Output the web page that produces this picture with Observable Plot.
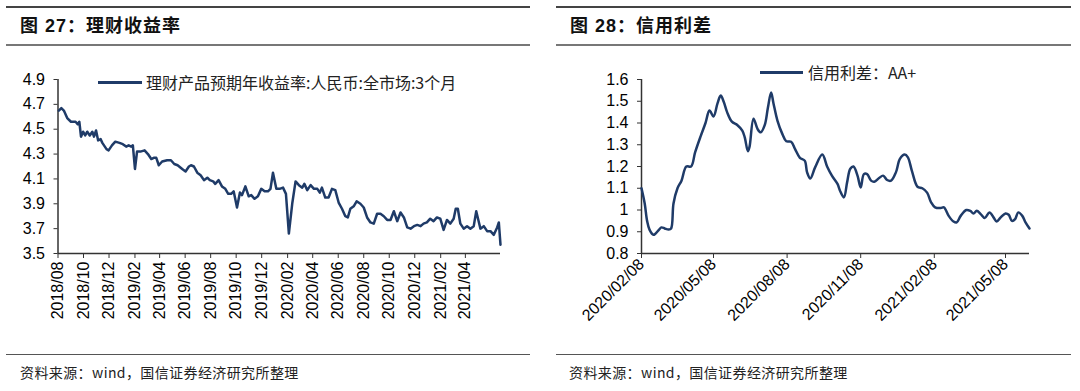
<!DOCTYPE html>
<html><head><meta charset="utf-8">
<script src="https://cdn.jsdelivr.net/npm/d3@7"></script>
<script src="https://cdn.jsdelivr.net/npm/@observablehq/plot@0.6"></script>
<style>
body{margin:0;background:#fff;width:1080px;height:391px;position:relative;overflow:hidden;font-family:"Liberation Sans",Arial,sans-serif;}
.rule{position:absolute;height:0;}
.title{position:absolute;top:16px;font-family:"Liberation Sans","Noto Sans CJK SC",sans-serif;font-weight:bold;font-size:18px;line-height:20px;color:#111;letter-spacing:1px;white-space:nowrap;}
.cap{position:absolute;top:363px;font-family:"Noto Sans CJK SC",sans-serif;font-size:14px;line-height:18px;color:#222;letter-spacing:0.4px;white-space:nowrap;}
.chart{position:absolute;top:50px;}
.leg{position:absolute;font-family:"Noto Sans CJK SC",sans-serif;font-size:16px;line-height:20px;color:#222;white-space:nowrap;}
.legline{position:absolute;height:3px;background:#1f3b68;}
</style></head>
<body>
<div class="rule" style="left:6px;width:524px;top:6px;border-top:2px solid #444"></div>
<div class="rule" style="left:556px;width:515px;top:6px;border-top:2px solid #444"></div>
<div class="rule" style="left:6px;width:524px;top:44px;border-top:2px solid #777"></div>
<div class="rule" style="left:556px;width:515px;top:44px;border-top:2px solid #777"></div>
<div class="title" style="left:20px">图 27：理财收益率</div>
<div class="title" style="left:570px">图 28：信用利差</div>
<div class="chart" id="c1" style="left:0px"></div>
<div class="chart" id="c2" style="left:540px"></div>
<div class="legline" style="left:98px;width:44px;top:81px"></div>
<div class="leg" style="left:146px;top:72px">理财产品预期年收益率:人民币:全市场:3个月</div>
<div class="legline" style="left:760px;width:43px;top:71px"></div>
<div class="leg" style="left:808px;top:62px">信用利差：AA+</div>
<div class="rule" style="left:6px;width:524px;top:354px;border-top:1.5px solid #555"></div>
<div class="rule" style="left:556px;width:515px;top:354px;border-top:1.5px solid #555"></div>
<div class="cap" style="left:20px">资料来源：wind，国信证券经济研究所整理</div>
<div class="cap" style="left:569px">资料来源：wind，国信证券经济研究所整理</div>
<script>
// ---- Figure 27: wealth-management product expected yield (3M) ----
const rateDates = ["2018-08-03","2018-08-09","2018-08-15","2018-08-23","2018-09-01","2018-09-12","2018-09-17","2018-09-21","2018-09-25","2018-09-30","2018-10-05","2018-10-10","2018-10-16","2018-10-22","2018-10-26","2018-10-31","2018-11-05","2018-11-11","2018-11-15","2018-11-25","2018-11-30","2018-12-08","2018-12-16","2018-12-26","2019-01-03","2019-01-11","2019-01-17","2019-01-23","2019-01-27","2019-02-01","2019-02-06","2019-02-14","2019-02-24","2019-03-04","2019-03-12","2019-03-18","2019-03-24","2019-03-30","2019-04-07","2019-04-19","2019-04-28","2019-05-06","2019-05-14","2019-05-25","2019-06-02","2019-06-10","2019-06-15","2019-06-22","2019-06-30","2019-07-08","2019-07-16","2019-07-24","2019-07-30","2019-08-07","2019-08-12","2019-08-20","2019-08-28","2019-09-05","2019-09-12","2019-09-19","2019-09-25","2019-10-03","2019-10-10","2019-10-15","2019-10-23","2019-10-31","2019-11-06","2019-11-14","2019-11-22","2019-11-30","2019-12-08","2019-12-16","2019-12-22","2019-12-28","2020-01-05","2020-01-13","2020-01-21","2020-01-28","2020-02-04","2020-02-12","2020-02-20","2020-02-28","2020-03-07","2020-03-12","2020-03-19","2020-03-27","2020-04-04","2020-04-12","2020-04-18","2020-04-23","2020-05-01","2020-05-09","2020-05-17","2020-05-25","2020-06-02","2020-06-10","2020-06-18","2020-06-24","2020-06-30","2020-07-08","2020-07-15","2020-07-24","2020-08-01","2020-08-09","2020-08-17","2020-08-25","2020-09-02","2020-09-10","2020-09-18","2020-09-26","2020-10-04","2020-10-12","2020-10-20","2020-10-28","2020-11-05","2020-11-13","2020-11-21","2020-11-29","2020-12-07","2020-12-15","2020-12-22","2020-12-30","2021-01-07","2021-01-15","2021-01-23","2021-01-31","2021-02-08","2021-02-16","2021-02-24","2021-03-04","2021-03-09","2021-03-14","2021-03-20","2021-03-28","2021-04-05","2021-04-13","2021-04-21","2021-04-27","2021-05-02","2021-05-07","2021-05-15","2021-05-23","2021-05-31","2021-06-08","2021-06-16","2021-06-20","2021-06-24"];
const rateValues = [4.65,4.67,4.65,4.59,4.56,4.56,4.54,4.56,4.44,4.48,4.45,4.48,4.45,4.48,4.44,4.49,4.41,4.42,4.39,4.34,4.33,4.37,4.40,4.39,4.38,4.36,4.37,4.36,4.37,4.18,4.32,4.32,4.33,4.30,4.26,4.27,4.27,4.21,4.24,4.25,4.25,4.22,4.21,4.18,4.16,4.20,4.21,4.20,4.15,4.13,4.09,4.11,4.09,4.08,4.06,4.09,4.04,4.02,3.98,3.98,4.00,3.87,3.99,3.97,4.04,3.96,3.97,3.94,3.96,4.02,4.00,4.00,4.02,4.15,4.02,4.02,4.03,3.98,3.66,3.90,4.08,4.05,4.03,4.06,4.01,4.05,4.02,4.02,3.99,4.03,3.95,3.95,4.02,4.01,3.91,3.86,3.80,3.79,3.86,3.88,3.92,3.90,3.87,3.79,3.75,3.74,3.82,3.82,3.80,3.77,3.77,3.84,3.76,3.83,3.79,3.71,3.70,3.72,3.73,3.72,3.74,3.75,3.78,3.76,3.79,3.78,3.69,3.77,3.74,3.78,3.86,3.86,3.74,3.70,3.72,3.70,3.72,3.84,3.77,3.70,3.72,3.68,3.68,3.65,3.71,3.75,3.57];
const rateXTicks = ["2018-08-01","2018-10-01","2018-12-01","2019-02-01","2019-04-01","2019-06-01","2019-08-01","2019-10-01","2019-12-01","2020-02-01","2020-04-01","2020-06-01","2020-08-01","2020-10-01","2020-12-01","2021-02-01","2021-04-01"];
const rateYTicks = [3.5,3.7,3.9,4.1,4.3,4.5,4.7,4.9];
const rateXDomain = ["2018-08-01","2021-06-24"];

// ---- Figure 28: credit spread AA+ ----
const spreadDates = ["2020-02-08","2020-02-12","2020-02-15","2020-02-18","2020-02-23","2020-02-25","2020-03-01","2020-03-04","2020-03-08","2020-03-13","2020-03-16","2020-03-19","2020-03-24","2020-03-29","2020-04-04","2020-04-10","2020-04-15","2020-04-22","2020-04-28","2020-05-03","2020-05-08","2020-05-13","2020-05-17","2020-05-21","2020-05-25","2020-05-31","2020-06-07","2020-06-13","2020-06-16","2020-06-20","2020-06-22","2020-06-27","2020-07-02","2020-07-06","2020-07-11","2020-07-15","2020-07-19","2020-07-22","2020-07-27","2020-08-02","2020-08-07","2020-08-13","2020-08-18","2020-08-24","2020-08-30","2020-09-02","2020-09-06","2020-09-12","2020-09-21","2020-09-27","2020-10-03","2020-10-10","2020-10-13","2020-10-18","2020-10-22","2020-10-26","2020-10-30","2020-11-04","2020-11-08","2020-11-12","2020-11-16","2020-11-21","2020-11-25","2020-12-01","2020-12-06","2020-12-11","2020-12-16","2020-12-22","2020-12-27","2021-01-02","2021-01-06","2021-01-11","2021-01-18","2021-01-24","2021-01-30","2021-02-04","2021-02-09","2021-02-16","2021-02-20","2021-02-26","2021-03-04","2021-03-08","2021-03-13","2021-03-20","2021-03-25","2021-03-29","2021-04-02","2021-04-07","2021-04-12","2021-04-18","2021-04-23","2021-04-27","2021-05-02","2021-05-08","2021-05-12","2021-05-16","2021-05-20","2021-05-24","2021-05-29","2021-06-02","2021-06-07"];
const spreadValues = [1.10,1.03,0.95,0.91,0.886,0.89,0.91,0.92,0.915,0.91,0.915,1.03,1.10,1.135,1.20,1.20,1.265,1.34,1.40,1.457,1.43,1.49,1.526,1.495,1.45,1.406,1.39,1.365,1.335,1.27,1.29,1.42,1.373,1.357,1.39,1.47,1.54,1.49,1.41,1.35,1.316,1.314,1.28,1.24,1.227,1.173,1.145,1.196,1.255,1.20,1.158,1.12,1.09,1.058,1.127,1.19,1.20,1.158,1.104,1.165,1.165,1.135,1.13,1.147,1.158,1.138,1.135,1.173,1.235,1.255,1.242,1.18,1.107,1.10,1.08,1.035,1.012,1.009,1.012,0.973,0.947,0.943,0.973,1.00,0.996,0.984,0.996,0.981,0.963,0.989,0.966,0.947,0.966,0.984,0.978,0.95,0.958,0.989,0.973,0.943,0.915];
const spreadXTicks = ["2020-02-08","2020-05-08","2020-08-08","2020-11-08","2021-02-08","2021-05-08"];
const spreadYTicks = [0.8,0.9,1.0,1.1,1.2,1.3,1.4,1.5,1.6];
const spreadXDomain = ["2020-02-08","2021-06-07"];

const navy = "#1f3b68";
const axisColor = "#333";
const baseStyle = {fontFamily: '"Liberation Sans", Arial, sans-serif', fontSize: "16px", color: "#000", background: "transparent", overflow: "visible"};
const toDate = s => new Date(s + "T00:00:00Z");

const rateData = rateDates.map((d, i) => ({date: toDate(d), value: rateValues[i]}));
const spreadData = spreadDates.map((d, i) => ({date: toDate(d), value: spreadValues[i]}));

const c1 = Plot.plot({
  width: 540, height: 300,
  marginLeft: 57.5, marginRight: 40, marginTop: 29, marginBottom: 97,
  style: baseStyle,
  x: {type: "utc", domain: rateXDomain.map(toDate)},
  y: {domain: [3.5, 4.9]},
  marks: [
    Plot.axisY(rateYTicks, {tickFormat: d => d.toFixed(1), tickSize: 4, tickPadding: 9, stroke: axisColor, fill: "#000", fontSize: 16, label: null}),
    Plot.axisX(rateXTicks.map(toDate), {tickFormat: d3.utcFormat("%Y/%m"), tickRotate: -90, tickSize: 5, tickPadding: 3, stroke: axisColor, fill: "#000", fontSize: 16, label: null}),
    Plot.ruleX([toDate(rateXDomain[0])], {stroke: axisColor, strokeWidth: 1.5}),
    Plot.ruleY([3.5], {stroke: axisColor, strokeWidth: 1.5}),
    Plot.lineY(rateData, {x: "date", y: "value", stroke: navy, strokeWidth: 2.5, strokeLinejoin: "round"})
  ]
});
document.getElementById("c1").append(c1);

const c2 = Plot.plot({
  width: 540, height: 300,
  marginLeft: 101, marginRight: 51, marginTop: 29, marginBottom: 97,
  style: baseStyle,
  x: {type: "utc", domain: spreadXDomain.map(toDate)},
  y: {domain: [0.8, 1.6]},
  marks: [
    Plot.axisY(spreadYTicks, {tickFormat: d => String(+d.toFixed(1)), tickSize: 4, tickPadding: 9, stroke: axisColor, fill: "#000", fontSize: 16, label: null}),
    Plot.axisX(spreadXTicks.map(toDate), {tickFormat: d3.utcFormat("%Y/%m/%d"), tickRotate: -45, tickSize: 5, tickPadding: 3, stroke: axisColor, fill: "#000", fontSize: 16, label: null}),
    Plot.ruleX([toDate(spreadXDomain[0])], {stroke: axisColor, strokeWidth: 1.5}),
    Plot.ruleY([0.8], {stroke: axisColor, strokeWidth: 1.5}),
    Plot.lineY(spreadData, {x: "date", y: "value", stroke: navy, strokeWidth: 2.5, curve: "catmull-rom", strokeLinejoin: "round"})
  ]
});
document.getElementById("c2").append(c2);
</script>
</body></html>
